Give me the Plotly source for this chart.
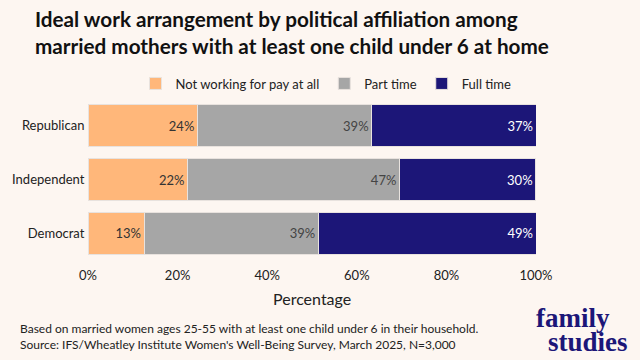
import plotly.graph_objects as go

categories = ["Republican", "Independent", "Democrat"]
not_working = [24.4, 22.2, 12.5]
part_time = [38.9, 47.3, 38.9]
full_time = [36.7, 30.4, 48.6]
series_names = ["Not working for pay at all", "Part time", "Full time"]
tick_vals = [0, 20, 40, 60, 80, 100]
tick_text = ["0%", "20%", "40%", "60%", "80%", "100%"]

colors = ["#FFB77A", "#A6A6A6", "#1C1678"]
label_colors = ["#333333", "#444444", "#FFFFFF"]
BG = "#FDF6F1"
FONT = "Lato, 'Open Sans', sans-serif"
SERIF = "'Liberation Serif', 'DejaVu Serif', serif"

W, H = 640, 360
ML, MR, MT, MB = 88, 104, 99, 100
PW = W - ML - MR
PH = H - MT - MB


def px_x(x):
    return (x - ML) / PW


def px_y(y):
    return (H - MB - y) / PH


fig = go.Figure()
for name, vals, c, lc in zip(series_names, [not_working, part_time, full_time], colors, label_colors):
    fig.add_trace(go.Bar(
        y=categories, x=vals, name=name, orientation="h",
        marker=dict(color=c, line=dict(color="#E8E2DE", width=1)),
        texttemplate="%{x:.0f}%", textposition="inside", insidetextanchor="end",
        textfont=dict(family=FONT, size=13, color=lc),
        hoverinfo="skip",
    ))

annotations = [
    dict(text="Ideal work arrangement by political affiliation among<br>married mothers with at least one child under 6 at home",
         x=px_x(33), y=px_y(33), xref="paper", yref="paper", xanchor="left", yanchor="middle",
         align="left", showarrow=False,
         font=dict(family=FONT, size=20.7, color="#111111", weight="bold")),
    dict(text="Percentage", x=px_x(312), y=px_y(298), xref="paper", yref="paper",
         xanchor="center", yanchor="middle", showarrow=False,
         font=dict(family=FONT, size=16, color="#222222")),
    dict(text="Based on married women ages 25-55 with at least one child under 6 in their household.<br>Source: IFS/Wheatley Institute Women's Well-Being Survey, March 2025, N=3,000",
         x=px_x(18), y=px_y(336), xref="paper", yref="paper", xanchor="left", yanchor="middle",
         align="left", showarrow=False,
         font=dict(family=FONT, size=12, color="#222222")),
    dict(text="<b>family</b>", x=px_x(573), y=px_y(318), xref="paper", yref="paper",
         xanchor="center", yanchor="middle", showarrow=False,
         font=dict(family=SERIF, size=27, color="#1C1678")),
    dict(text="<b>studies</b>", x=px_x(588), y=px_y(342), xref="paper", yref="paper",
         xanchor="center", yanchor="middle", showarrow=False,
         font=dict(family=SERIF, size=27, color="#1C1678")),
]

fig.update_layout(
    barmode="stack", bargap=0.22,
    width=W, height=H,
    margin=dict(l=ML, r=MR, t=MT, b=MB, autoexpand=False),
    paper_bgcolor=BG, plot_bgcolor=BG,
    font=dict(family=FONT, size=13, color="#222222"),
    showlegend=True,
    legend=dict(orientation="h", x=px_x(326), xanchor="center", y=px_y(83.5), yanchor="middle",
                font=dict(family=FONT, size=13, color="#222222"), traceorder="normal",
                bgcolor="rgba(0,0,0,0)"),
    xaxis=dict(range=[0, 100], tickvals=tick_vals, ticktext=tick_text, showgrid=False,
               zeroline=False, showline=False, ticks="outside", ticklen=3, tickcolor="rgba(0,0,0,0)",
               tickfont=dict(family=FONT, size=13, color="#222222"), fixedrange=True, automargin=False),
    yaxis=dict(autorange="reversed", showgrid=False, zeroline=False, showline=False,
               ticks="outside", ticklen=0, tickcolor="rgba(0,0,0,0)",
               tickfont=dict(family=FONT, size=13, color="#222222"), fixedrange=True, automargin=False),
    annotations=annotations,
)

fig.write_html("out.html", config={"displayModeBar": False},
               post_script="document.body.style.margin='0';document.body.style.background='" + BG + "';")
